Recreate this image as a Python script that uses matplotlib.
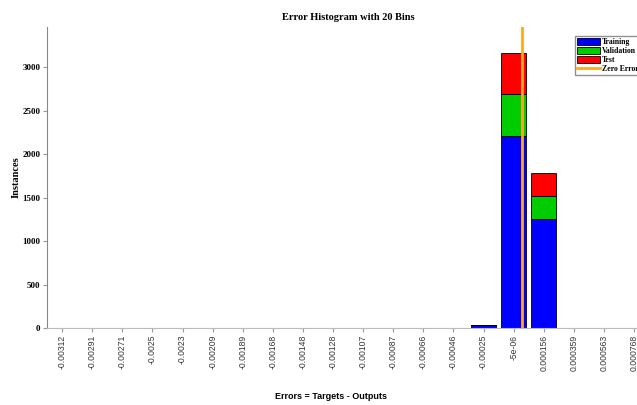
import matplotlib.pyplot as plt
import numpy as np

bin_labels = ["-0.00312", "-0.00291", "-0.00271", "-0.0025", "-0.0023",
              "-0.00209", "-0.00189", "-0.00168", "-0.00148", "-0.00128",
              "-0.00107", "-0.00087", "-0.00066", "-0.00046", "-0.00025",
              "-5e-06", "0.000156", "0.000359", "0.000563", "0.000768"]
training = [0, 0, 0, 0, 0, 0, 0, 0, 0, 0, 0, 0, 0, 0, 30, 2210, 1250, 0, 0, 0]
validation = [0, 0, 0, 0, 0, 0, 0, 0, 0, 0, 0, 0, 0, 0, 3, 480, 270, 0, 0, 0]
test = [0, 0, 0, 0, 0, 0, 0, 0, 0, 0, 0, 0, 0, 0, 2, 470, 260, 0, 0, 0]
zero_error_pos = 15.27


def main():
    fig = plt.figure(figsize=(6.37, 4.05), dpi=100)
    ax = fig.add_axes([0.074, 0.19, 0.945, 0.743])

    x = np.arange(len(bin_labels))
    tr = np.array(training)
    va = np.array(validation)
    te = np.array(test)
    w = 0.83
    b1 = ax.bar(x, tr, w, color="#0000ff", edgecolor="black", linewidth=0.6, label="Training")
    b2 = ax.bar(x, va, w, bottom=tr, color="#00cc00", edgecolor="black", linewidth=0.6, label="Validation")
    b3 = ax.bar(x, te, w, bottom=tr + va, color="#ff0000", edgecolor="black", linewidth=0.6, label="Test")
    zl = ax.axvline(zero_error_pos, color="#ffa726", linewidth=2, label="Zero Error")

    ax.set_xlim(-0.5, 19.5)
    ax.set_ylim(0, 3460)
    ax.set_xticks(x)
    ax.set_xticklabels(bin_labels, rotation=90, fontsize=6.2, color="#333333",
                       family="Liberation Sans")
    ax.set_yticks(np.arange(0, 3001, 500))
    for lab in ax.get_yticklabels():
        lab.set_family("Liberation Serif")
        lab.set_fontweight("bold")
        lab.set_fontsize(6.5)
    ax.tick_params(axis="both", length=3, width=0.8, color="#999999", pad=2)

    for s in ("top", "right"):
        ax.spines[s].set_visible(False)
    ax.spines["left"].set_color("#888888")
    ax.spines["bottom"].set_color("#bbbbbb")

    ax.set_title("Error Histogram with 20 Bins", family="Liberation Serif",
                 fontweight="bold", fontsize=7.5, pad=5)
    ax.set_ylabel("Instances", family="Liberation Serif", fontweight="bold",
                  fontsize=7.5, labelpad=1)
    fig.text(0.52, 0.022, "Errors = Targets - Outputs", ha="center", va="center",
             family="Liberation Sans", fontweight="bold", fontsize=6.5)

    leg = ax.legend([b1, b2, b3, zl], ["Training", "Validation", "Test", "Zero Error"],
                    loc="upper left", bbox_to_anchor=(0.897, 0.92),
                    bbox_transform=fig.transFigure, fancybox=False,
                    prop={"family": "Liberation Serif", "weight": "bold", "size": 5.6},
                    handlelength=2.9, handleheight=1.0, borderpad=0.25,
                    labelspacing=0.1, handletextpad=0.25)
    leg.get_frame().set_edgecolor("#777777")
    leg.get_frame().set_linewidth(1.0)

    fig.savefig("out.png", dpi=100)


if __name__ == "__main__":
    main()
